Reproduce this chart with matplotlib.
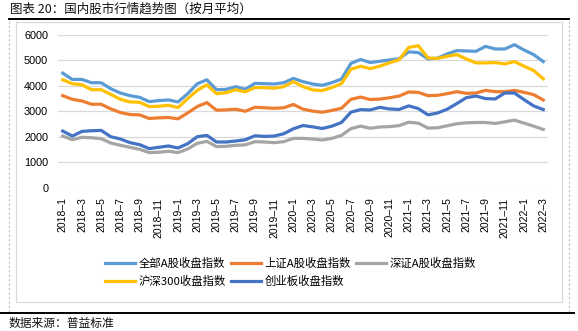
import matplotlib
matplotlib.use("Agg")
import matplotlib.pyplot as plt
from matplotlib.lines import Line2D
from matplotlib.patches import Rectangle

plt.rcParams["font.family"] = ["Liberation Sans", "Noto Sans CJK SC", "DejaVu Sans"]

# monthly averages, 2018-1 .. 2022-3
months = [f"{y}–{m}" for y in range(2018, 2023) for m in range(1, 13)][:51]

all_a = [4494, 4247, 4247, 4117, 4117, 3883, 3714, 3610, 3545, 3377,
         3416, 3442, 3364, 3688, 4078, 4234, 3844, 3857, 3961, 3862,
         4094, 4081, 4068, 4120, 4288, 4159, 4068, 4017, 4120, 4263,
         4880, 5030, 4910, 4960, 5010, 5060, 5330, 5300, 5052, 5080,
         5247, 5377, 5364, 5351, 5545, 5442, 5442, 5610, 5403, 5221, 4948]
sh_a = [3610, 3467, 3402, 3273, 3273, 3091, 2948, 2870, 2857, 2714,
        2740, 2753, 2701, 2935, 3182, 3338, 3039, 3052, 3078, 2998,
        3155, 3135, 3115, 3135, 3265, 3082, 3005, 2960, 3030, 3115,
        3470, 3555, 3458, 3477, 3528, 3594, 3755, 3740, 3610, 3623,
        3688, 3766, 3701, 3714, 3818, 3766, 3766, 3818, 3740, 3649, 3441]
sz_a = [2026, 1883, 1974, 1961, 1922, 1753, 1662, 1584, 1506, 1377,
        1390, 1429, 1377, 1519, 1740, 1818, 1610, 1623, 1662, 1680,
        1805, 1792, 1766, 1805, 1934, 1934, 1908, 1869, 1934, 2050,
        2320, 2415, 2330, 2380, 2395, 2434, 2570, 2532, 2338, 2350,
        2429, 2506, 2545, 2558, 2558, 2519, 2584, 2649, 2532, 2416, 2286]
hs300 = [4234, 4078, 4039, 3844, 3844, 3662, 3467, 3364, 3350, 3182,
         3195, 3234, 3143, 3494, 3818, 4039, 3688, 3727, 3844, 3760,
         3926, 3926, 3900, 3965, 4159, 3965, 3836, 3810, 3926, 4081,
         4650, 4765, 4670, 4770, 4900, 5020, 5500, 5571, 5091, 5070,
         5156, 5221, 5052, 4896, 4896, 4909, 4857, 4948, 4766, 4597, 4273]
chinext = [2221, 2026, 2208, 2234, 2247, 2000, 1909, 1766, 1688, 1532,
           1584, 1636, 1558, 1727, 2000, 2052, 1792, 1792, 1831, 1880,
           2038, 2012, 2025, 2116, 2310, 2439, 2387, 2322, 2413, 2556,
           2965, 3062, 3049, 3153, 3088, 3068, 3210, 3104, 2857, 2930,
           3078, 3299, 3532, 3597, 3494, 3481, 3714, 3714, 3455, 3208, 3065]

series = [
    ("全部A股收盘指数", all_a, "#5B9BD5"),
    ("上证A股收盘指数", sh_a, "#ED7D31"),
    ("深证A股收盘指数", sz_a, "#A5A5A5"),
    ("沪深300收盘指数", hs300, "#FFC000"),
    ("创业板收盘指数", chinext, "#4472C4"),
]

fig = plt.figure(figsize=(5.78, 3.31), dpi=100)
ax = fig.add_axes([0.1002, 0.433, 0.848, 0.462])

handles = []
for name, vals, color in series:
    h, = ax.plot(range(len(vals)), vals, color=color, linewidth=2.3,
                 label=name, solid_joinstyle="round")
    handles.append(h)

ax.set_xlim(-0.5, len(months) - 0.5)
ax.set_ylim(0, 6000)
ax.set_yticks(range(0, 6001, 1000))
ax.set_xticks(range(0, len(months), 2))
ax.set_xticklabels(months[::2], rotation=90, va="top", ha="center")
ax.tick_params(axis="x", length=0, pad=7, labelsize=7.5, colors="#000000")
ax.tick_params(axis="y", length=0, pad=7, labelsize=7.8, colors="#000000")
ax.grid(True, axis="y", color="#D9D9D9", linewidth=0.9)
ax.set_axisbelow(True)
for s in ax.spines.values():
    s.set_visible(False)

# column-major legend: reorder so rows read left to right
order = [0, 3, 1, 4, 2]
cjk = ["Noto Sans CJK SC", "DejaVu Sans"]
fig.legend([handles[i] for i in order], [series[i][0] for i in order],
           ncol=3, loc="upper left", bbox_to_anchor=(105 / 578, 1 - 258 / 331),
           frameon=False, handlelength=2.6, handletextpad=0.35,
           columnspacing=0.45, labelspacing=0.6, borderaxespad=0, borderpad=0,
           prop={"family": cjk, "size": 8.2})

# frame around the chart area and the dashed page edges
fig.add_artist(Rectangle((16 / 578, 1 - 302 / 331), 546 / 578, 280 / 331,
                         transform=fig.transFigure, fill=False,
                         edgecolor="#D9D9D9", linewidth=0.9))
for x in (9 / 578, 569 / 578):
    fig.add_artist(Line2D([x, x], [1 - 312 / 331, 1 - 20 / 331],
                          transform=fig.transFigure, color="#BFBFBF",
                          linewidth=0.8, linestyle=(0, (2, 2))))
fig.add_artist(Line2D([9 / 578, 569 / 578], [1 - 19 / 331] * 2,
                      transform=fig.transFigure, color="black", linewidth=1.4))
fig.add_artist(Line2D([0.0, 574 / 578], [1 - 313 / 331] * 2,
                      transform=fig.transFigure, color="black", linewidth=1.4))

fig.text(10 / 578, 1 - 9 / 331, "图表 20：国内股市行情趋势图（按月平均）",
         family=cjk, fontsize=9, va="center", ha="left", color="#111111")
fig.text(9 / 578, 1 - 323 / 331, "数据来源：普益标准",
         family=cjk, fontsize=8.5, va="center", ha="left", color="#111111")

fig.savefig("out.png", dpi=100)
